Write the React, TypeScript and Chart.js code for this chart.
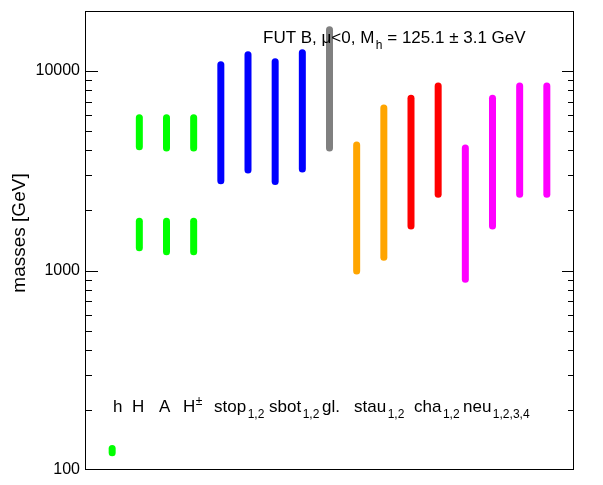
import React, { useEffect, useRef } from "react";
import { Chart, registerables } from "chart.js";

Chart.register(...registerables);

// ---- data ----
const particleNames = ["h", "H", "A", "H±", "stop1", "stop2", "sbot1", "sbot2", "gl", "stau1", "stau2", "cha1", "cha2", "neu1", "neu2", "neu3", "neu4"];
const particleX = [1, 2, 3, 4, 5, 6, 7, 8, 9, 10, 11, 12, 13, 14, 15, 16, 17];
const massLow = [122, 4174, 4113, 4113, 2817, 3188, 2794, 3225, 4113, 994, 1166, 1673, 2415, 903, 1673, 2415, 2415];
const massHigh = [128.2, 5840, 5840, 5840, 10745, 12060, 11122, 12345, 16100, 4258, 6535, 7300, 8425, 4113, 7300, 8425, 8425];
const particleColors = ["#00ff00", "#00ff00", "#00ff00", "#00ff00", "#0000ff", "#0000ff", "#0000ff", "#0000ff", "#808080", "#ffa500", "#ffa500", "#ff0000", "#ff0000", "#ff00ff", "#ff00ff", "#ff00ff", "#ff00ff"];

// heavy Higgs second branch (H, A, H±)
const branchX = [2, 3, 4];
const branchLow = [1302, 1243, 1243];
const branchHigh = [1767, 1767, 1767];
const branchColor = "#00ff00";

const yMin = 100;
const yMax = 20000;
const yTickValues = [100, 200, 300, 400, 500, 600, 700, 800, 900, 1000, 2000, 3000, 4000, 5000, 6000, 7000, 8000, 9000, 10000, 20000];
const yLabelValues = [100, 1000, 10000];

// labels row
const labelMain = ["h", "H", "A", "H", "stop", "sbot", "gl.", "stau", "cha", "neu"];
const labelSup = ["", "", "", "±", "", "", "", "", "", ""];
const labelSub = ["", "", "", "", "1,2", "1,2", "", "1,2", "1,2", "1,2,3,4"];

const titleMain = "FUT B, μ<0, M";
const titleSub = "h";
const titleRest = " = 125.1 ± 3.1 GeV";
const yTitle = "masses [GeV]";

// ---- layout (pixels) ----
const W = 603;
const H = 485;
const labelLeft = [113, 132, 159, 183, 214, 269, 322, 354, 414, 463];
const labelBaseline = 412;
const titleLeft = 263;
const titleBaseline = 43;
const FONT = "'Liberation Sans', Arial, Helvetica, sans-serif";

const framePlugin = {
  id: "rootFrame",
  afterDraw(chart: any) {
    const ctx = chart.ctx as CanvasRenderingContext2D;
    const a = chart.chartArea;
    const ys = chart.scales.y;
    ctx.save();
    ctx.strokeStyle = "#000";
    ctx.lineWidth = 1;
    ctx.strokeRect(Math.round(a.left) + 0.5, Math.round(a.top) + 0.5, Math.round(a.right - a.left) - 1, Math.round(a.bottom - a.top) - 1);
    // inward ticks on left and right
    ctx.beginPath();
    for (const t of ys.ticks) {
      const v = t.value;
      const major = yLabelValues.includes(v);
      const py = Math.round(ys.getPixelForValue(v)) + 0.5;
      if (py < a.top + 1 || py > a.bottom - 1) continue;
      const lenL = major ? 13 : 7;
      const lenR = major ? 12 : 6;
      ctx.moveTo(a.left, py);
      ctx.lineTo(a.left + lenL, py);
      ctx.moveTo(a.right, py);
      ctx.lineTo(a.right - lenR, py);
    }
    ctx.stroke();

    ctx.fillStyle = "#000";
    ctx.textAlign = "left";
    ctx.textBaseline = "alphabetic";
    // particle labels
    for (let i = 0; i < labelMain.length; i++) {
      ctx.font = `17px ${FONT}`;
      const x0 = labelLeft[i];
      ctx.fillText(labelMain[i], x0, labelBaseline);
      const w = ctx.measureText(labelMain[i]).width;
      ctx.font = `12px ${FONT}`;
      if (labelSup[i]) ctx.fillText(labelSup[i], x0 + w + 0.5, labelBaseline - 7);
      if (labelSub[i]) ctx.fillText(labelSub[i], x0 + w + 1.5, labelBaseline + 6);
    }
    // title
    ctx.font = `17px ${FONT}`;
    ctx.fillText(titleMain, titleLeft, titleBaseline);
    let x = titleLeft + ctx.measureText(titleMain).width + 1.5;
    ctx.font = `12px ${FONT}`;
    ctx.fillText(titleSub, x, titleBaseline + 6);
    x += ctx.measureText(titleSub).width;
    ctx.font = `17px ${FONT}`;
    ctx.fillText(titleRest, x, titleBaseline);

    // y title
    ctx.translate(24.5, 233);
    ctx.rotate(-Math.PI / 2);
    ctx.textAlign = "center";
    ctx.font = `19px ${FONT}`;
    ctx.fillText(yTitle, 0, 0);
    ctx.restore();
  },
};

export default function App() {
  const ref = useRef<HTMLCanvasElement | null>(null);
  useEffect(() => {
    if (!ref.current) return;
    const seg = (x: number, lo: number, hi: number, color: string, label: string) => ({
      label,
      data: [
        { x, y: lo },
        { x, y: hi },
      ],
      borderColor: color,
      backgroundColor: color,
      borderWidth: 7,
      borderCapStyle: "round" as const,
      pointRadius: 0,
      showLine: true,
      fill: false,
    });
    const datasets: any[] = particleNames.map((n, i) => seg(particleX[i], massLow[i], massHigh[i], particleColors[i], n));
    branchX.forEach((bx, i) => datasets.push(seg(bx, branchLow[i], branchHigh[i], branchColor, particleNames[i + 1] + " low")));

    const chart = new Chart(ref.current, {
      type: "scatter",
      data: { datasets },
      options: {
        animation: false,
        responsive: false,
        devicePixelRatio: 1,
        layout: { padding: { left: 0, top: 11, right: 29, bottom: 15 } },
        plugins: { legend: { display: false }, tooltip: { enabled: false } },
        scales: {
          x: { type: "linear", min: 0, max: 18, display: false },
          y: {
            type: "logarithmic",
            min: yMin,
            max: yMax,
            position: "left",
            grid: { display: false, drawTicks: false },
            border: { display: false },
            afterBuildTicks: (s: any) => {
              s.ticks = yTickValues.map((v) => ({ value: v }));
            },
            afterFit: (s: any) => {
              s.width = 85;
              s.paddingTop = 0;
              s.paddingBottom = 0;
            },
            ticks: {
              autoSkip: false,
              padding: 5,
              color: "#000",
              font: { family: FONT, size: 16 },
              callback: (v: any) => (yLabelValues.includes(Number(v)) ? String(v) : ""),
            },
          },
        },
      },
      plugins: [framePlugin],
    });
    return () => chart.destroy();
  }, []);
  return (
    <div style={{ position: "absolute", left: 0, top: 0, width: W, height: H, background: "#fff" }}>
      <canvas ref={ref} width={W} height={H} style={{ width: W, height: H, display: "block" }} />
    </div>
  );
}
